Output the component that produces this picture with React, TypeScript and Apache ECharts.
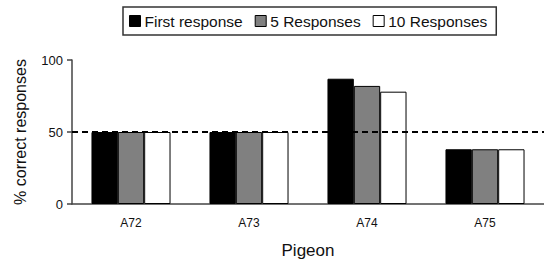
import React, { useEffect, useRef } from "react";
import * as echarts from "echarts";

const categories = ["A72", "A73", "A74", "A75"];
const firstResponse = [50, 50, 87, 38];
const fiveResponses = [50, 50, 82, 38];
const tenResponses = [50, 50, 78, 38];
const yTicks = [0, 50, 100];
const chanceLevel = 50;

export default function App() {
  const ref = useRef<HTMLDivElement>(null);
  useEffect(() => {
    if (!ref.current) return;
    const chart = echarts.init(ref.current, undefined, { renderer: "svg" });
    const font = "Liberation Sans, Arial, sans-serif";
    chart.setOption({
      animation: false,
      backgroundColor: "#fff",
      textStyle: { fontFamily: font },
      legend: {
        top: 7,
        left: 123,
        icon: "rect",
        itemWidth: 11,
        itemHeight: 11,
        itemGap: 12,
        padding: [6, 9, 6, 6],
        borderColor: "#333",
        borderWidth: 1.5,
        itemStyle: { borderColor: "#000", borderWidth: 1 },
        textStyle: { fontSize: 15.5, color: "#111", fontFamily: font, padding: [0, 0, 0, -1] },
        data: ["First response", "5 Responses", "10 Responses"],
      },
      grid: { left: 72, right: 0, top: 60, bottom: 60, outerBoundsMode: "none", containLabel: false },
      xAxis: {
        type: "category",
        data: categories,
        name: "Pigeon",
        nameLocation: "middle",
        nameGap: 38,
        nameTextStyle: { fontSize: 17, color: "#111", fontFamily: font },
        axisLine: { lineStyle: { color: "#444", width: 1.5 } },
        axisTick: { show: false },
        axisLabel: { fontSize: 12, color: "#111", margin: 13, fontFamily: font },
      },
      yAxis: {
        type: "value",
        min: yTicks[0],
        max: yTicks[yTicks.length - 1],
        interval: 50,
        name: "% correct responses",
        nameLocation: "middle",
        nameGap: 44,
        nameTextStyle: { fontSize: 16, color: "#111", fontFamily: font },
        axisLine: { show: true, lineStyle: { color: "#444", width: 1.5 } },
        axisTick: { show: true, length: 5, lineStyle: { color: "#444", width: 1.5 } },
        splitLine: { show: false },
        axisLabel: { fontSize: 13, color: "#111", margin: 9, fontFamily: font },
      },
      series: [
        {
          name: "First response",
          type: "bar",
          data: firstResponse,
          barGap: "0%",
          barCategoryGap: "33%",
          itemStyle: { color: "#000", borderColor: "#000", borderWidth: 1 },
          markLine: {
            silent: true,
            symbol: "none",
            label: { show: false },
            lineStyle: { color: "#000", type: [6, 4], width: 2 },
            data: [{ yAxis: chanceLevel }],
            z: 10,
          },
        },
        {
          name: "5 Responses",
          type: "bar",
          data: fiveResponses,
          itemStyle: { color: "#808080", borderColor: "#000", borderWidth: 1 },
        },
        {
          name: "10 Responses",
          type: "bar",
          data: tenResponses,
          itemStyle: { color: "#fff", borderColor: "#000", borderWidth: 1 },
        },
      ],
    });
    return () => chart.dispose();
  }, []);
  return <div ref={ref} style={{ width: 544, height: 264, position: "absolute", left: 0, top: 0 }} />;
}
